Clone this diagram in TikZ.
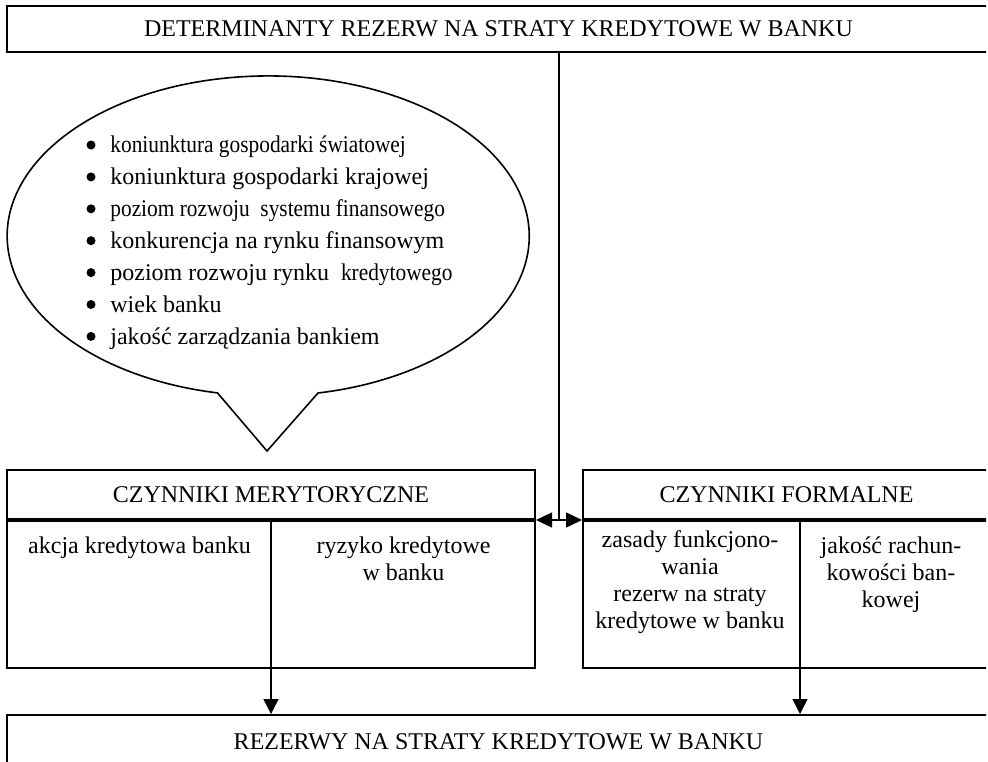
\documentclass[tikz,border=0pt]{standalone}
\usepackage{fontspec}
\setmainfont{Liberation Serif}
\newfontfamily\narrowfont{Liberation Serif}[FakeStretch=0.89]
\usetikzlibrary{arrows.meta,calc,positioning}

\begin{document}
\begin{tikzpicture}[x=0.5pt,y=-0.5pt,font=\fontsize{12}{13.5}\selectfont]
            \tikzstyle{box} = [draw, line width=1pt, inner sep=0pt, align=center]
            \tikzstyle{header} = [box, minimum height=24.5pt]
            \tikzstyle{column} = [anchor=north, inner sep=0pt, align=center]
            \tikzstyle{feed} = [line width=0.7pt, -{Triangle[length=7.5pt,width=7.5pt]}]
            \tikzstyle{link} = [line width=0.7pt, {Triangle[length=8pt,width=7.5pt]}-{Triangle[length=8pt,width=7.5pt]}]

            \useasboundingbox (0,0) rectangle (988,761);
            \clip (0,0) rectangle (986,761);

            \node [box, minimum width=491.5pt, minimum height=23pt] (title) at (498.5,29) {DETERMINANTY REZERW NA STRATY KREDYTOWE W BANKU};

            \coordinate (tip) at (267,451);
            \coordinate (base) at (318,393);
            \draw [line width=0.8pt] (tip) -- (base) arc [start angle=79, end angle=-258.8, x radius=261, y radius=160] -- cycle;
            \fill (91,145) circle (4.5) (91,176.9) circle (4.5) (91,208.8) circle (4.5) (91,240.7) circle (4.5)
                  (91,272.6) circle (4.5) (91,304.5) circle (4.5) (91,336.4) circle (4.5);
            \node [anchor=north west, inner sep=0pt, align=left, font=\fontsize{12}{15.95}\selectfont] (factors) at (110,135.6)
                {{\narrowfont koniunktura gospodarki światowej}\\
                 koniunktura gospodarki krajowej\\
                 {\narrowfont poziom rozwoju\ \ systemu finansowego}\\
                 konkurencja na rynku finansowym\\
                 poziom rozwoju rynku\ \ {\narrowfont kredytowego}\\
                 wiek banku\\
                 jakość zarządzania bankiem};

            \node [header, minimum width=264pt] (merit) at (271,494.5) {CZYNNIKI MERYTORYCZNE};
            \node [box, minimum width=264pt, minimum height=73.5pt, below=0pt of merit] (meritbody) {};
            \node [header, minimum width=203.5pt] (formal) at (786.5,494.5) {CZYNNIKI FORMALNE};
            \node [box, minimum width=203.5pt, minimum height=73.5pt, below=0pt of formal] (formalbody) {};
            \node [box, minimum width=491.5pt, minimum height=27pt] (reserves) at (498.5,742) {REZERWY NA STRATY KREDYTOWE W BANKU};

            \node [column] (credit) at (139.5,536) {akcja kredytowa banku};
            \node [column] (risk) at (403.5,536) {ryzyko kredytowe\\w banku};
            \node [column] (rules) at (690,530) {zasady funkcjono-\\wania\\rezerw na straty\\kredytowe w banku};
            \node [column] (quality) at (891,536) {jakość rachun-\\kowości ban-\\kowej};

            \coordinate (mid) at ($(merit.south east)!.5!(formal.south west)$);
            \draw [line width=0.7pt] (title.south -| mid) -- (mid);
            \draw [link] (merit.south east) -- (formal.south west);
            \draw [feed] (meritbody.north) -- (meritbody.north |- reserves.north);
            \coordinate (split) at ($(formalbody.north west)!.533!(formalbody.north east)$);
            \draw [feed] (split) -- (split |- reserves.north);
\end{tikzpicture}
\end{document}
